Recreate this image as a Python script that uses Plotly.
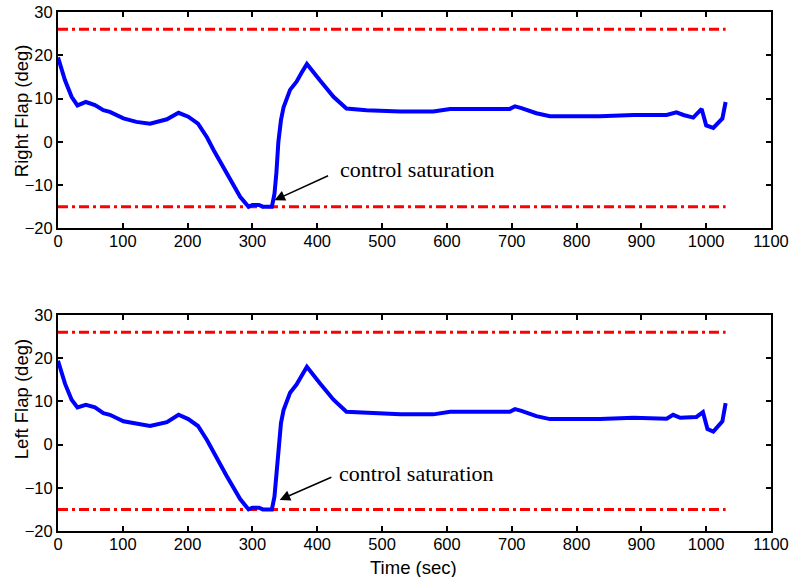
import plotly.graph_objects as go

# Flap deflection histories (deg) against time (sec)
time_r = [0, 5.6, 10.8, 21, 30, 43, 57, 70, 80, 101, 121, 142, 168, 186, 201, 216, 230, 240,
          260, 281, 294, 300, 310, 316, 330, 334, 337, 340, 344, 348, 358, 368, 376, 384,
          404, 425, 445, 476, 528, 579, 605, 630, 697, 705, 715, 738, 759, 836, 888,
          939, 954, 965, 980, 993, 1000, 1011, 1018, 1025, 1030]
right_flap = [19.5, 16.6, 14.2, 10.4, 8.4, 9.2, 8.5, 7.3, 6.9, 5.4, 4.6, 4.2, 5.2, 6.7, 5.8,
              4.2, 1.0, -1.9, -7.3, -12.7, -15.0, -14.6, -14.6, -15.0, -15.0, -12.0, -7.0,
              0.0, 5.0, 8.0, 12.0, 13.9, 16.0, 18.0, 14.2, 10.4, 7.7, 7.3, 7.0, 7.0, 7.6,
              7.6, 7.6, 8.2, 7.8, 6.6, 5.9, 5.9, 6.2, 6.2, 6.8, 6.2, 5.6, 7.6, 3.8, 3.2,
              4.2, 5.4, 9.2]

time_l = [0, 5.6, 10.8, 21, 30, 43, 57, 70, 80, 101, 121, 142, 168, 186, 201, 216, 230, 240,
          260, 281, 294, 300, 310, 316, 330, 334, 337, 340, 344, 348, 358, 368, 376, 384,
          404, 425, 445, 476, 528, 579, 605, 630, 697, 705, 715, 738, 759, 836, 888,
          939, 949, 960, 985, 995, 1002, 1011, 1018, 1025, 1030]
left_flap = [19.4, 16.5, 14.1, 10.4, 8.6, 9.2, 8.6, 7.3, 6.9, 5.4, 4.8, 4.3, 5.2, 6.9, 5.9,
             4.3, 1.0, -1.8, -7.2, -12.6, -15.0, -14.6, -14.6, -15.0, -15.0, -12.0, -7.0,
             0.0, 5.0, 8.0, 12.0, 13.9, 16.0, 18.0, 14.2, 10.4, 7.6, 7.4, 7.0, 7.0, 7.6,
             7.6, 7.6, 8.2, 7.8, 6.6, 5.9, 5.9, 6.2, 6.0, 6.9, 6.2, 6.4, 7.5, 3.6, 3.0,
             4.2, 5.4, 9.6]

# Actuator limits (deg)
limit_t = [0, 1030]
upper_limit = [26, 26]
lower_limit = [-15, -15]

x_ticks = list(range(0, 1101, 100))
y_ticks = list(range(-20, 31, 10))

BLUE = "rgb(0,0,255)"
RED = "rgb(255,0,0)"
DASHDOT = "10px,4px,3px,4px"

fig = go.Figure()

for t, v, xa, ya in [(time_r, right_flap, "x", "y"), (time_l, left_flap, "x2", "y2")]:
    for lim in (upper_limit, lower_limit):
        fig.add_trace(go.Scatter(x=limit_t, y=lim, mode="lines", xaxis=xa, yaxis=ya,
                                 line=dict(color=RED, width=3, dash=DASHDOT),
                                 showlegend=False, hoverinfo="skip"))
    fig.add_trace(go.Scatter(x=t, y=v, mode="lines", xaxis=xa, yaxis=ya,
                             line=dict(color=BLUE, width=4),
                             showlegend=False))

tick_font = dict(family="Liberation Sans, Arial", size=16.5, color="black")
axis_common = dict(showline=True, linecolor="black", linewidth=2, mirror="ticks",
                   ticks="inside", ticklen=5, tickwidth=1.5, tickcolor="black",
                   showgrid=False, zeroline=False, tickfont=tick_font, automargin=False)

fig.update_layout(
    width=793, height=577,
    margin=dict(l=58, r=22, t=12, b=46, autoexpand=False),
    paper_bgcolor="white", plot_bgcolor="white",
    xaxis=dict(domain=[0, 1], anchor="y", range=[0, 1100], tickvals=x_ticks,
               ticklabelstandoff=-3, **axis_common),
    yaxis=dict(domain=[0.5832, 1], anchor="x", range=[-20, 30], tickvals=y_ticks, **axis_common),
    xaxis2=dict(domain=[0, 1], anchor="y2", range=[0, 1100], tickvals=x_ticks,
                ticklabelstandoff=-3, **axis_common),
    yaxis2=dict(domain=[0, 0.4162], anchor="x2", range=[-20, 30], tickvals=y_ticks, **axis_common),
)

title_font = dict(family="Liberation Sans, Arial", size=18.5, color="black")
label_font = dict(family="Liberation Serif, Times New Roman", size=22, color="black")

annotations = [
    dict(text="Right Flap (deg)", xref="paper", yref="paper", x=0, y=0.809, xshift=-37,
         textangle=-90, showarrow=False, font=title_font, xanchor="center", yanchor="middle"),
    dict(text="Left Flap (deg)", xref="paper", yref="paper", x=0, y=0.254, xshift=-37,
         textangle=-90, showarrow=False, font=title_font, xanchor="center", yanchor="middle"),
    dict(text="Time (sec)", xref="paper", yref="paper", x=0.498, y=-0.0694,
         showarrow=False, font=title_font, xanchor="center", yanchor="middle"),
]

# "control saturation" callouts with arrows
for xr, yr, head, tail, txt in [("x", "y", (334, -13.5), (419, -7.7), (432, -6.5)),
                                ("x2", "y2", (342, -12.8), (424, -7.4), (431, -6.6))]:
    annotations.append(dict(text="", x=head[0], y=head[1], xref=xr, yref=yr,
                            ax=tail[0], ay=tail[1], axref=xr, ayref=yr,
                            showarrow=True, arrowhead=2, arrowsize=1.4, arrowwidth=1.5,
                            arrowcolor="black", standoff=0))
    annotations.append(dict(text="control saturation", x=txt[0], y=txt[1], xref=xr, yref=yr,
                            showarrow=False, font=label_font, xanchor="left", yanchor="middle"))

fig.update_layout(annotations=annotations)

fig.write_html("out.html")
